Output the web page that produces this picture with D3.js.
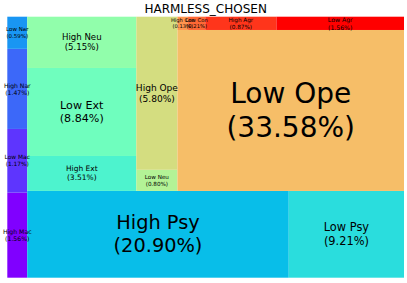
<!DOCTYPE html>
<html>
<head>
<meta charset="utf-8">
<script src="https://cdn.jsdelivr.net/npm/d3@7"></script>
<style>
  html, body { margin: 0; padding: 0; background: #ffffff; }
  svg { display: block; }
  text { font-family: "DejaVu Sans", sans-serif; fill: #000; }
</style>
</head>
<body>
<svg id="chart" width="407" height="283"></svg>
<script>
// ---- data (in layout order) ----
const categories = ["High Mac","Low Mac","High Nar","Low Nar","High Psy","Low Psy","High Ext","Low Ext","High Neu","Low Neu","High Ope","Low Ope","High Con","Low Con","High Agr","Low Agr"];
const values = [1.56, 1.17, 1.47, 0.59, 20.90, 9.21, 3.51, 8.84, 5.15, 0.80, 5.80, 33.58, 0.13, 0.21, 0.87, 1.56];
const chartTitle = "HARMLESS_CHOSEN";

// ---- squarify layout (port of python squarify) ----
function normalizeSizes(sizes, dx, dy) {
  const total = d3.sum(sizes);
  return sizes.map(s => s * dx * dy / total);
}
function layoutrow(sizes, x, y, dx, dy) {
  const width = d3.sum(sizes) / dy;
  const rects = [];
  for (const s of sizes) { rects.push({x, y, dx: width, dy: s / width}); y += s / width; }
  return rects;
}
function layoutcol(sizes, x, y, dx, dy) {
  const height = d3.sum(sizes) / dx;
  const rects = [];
  for (const s of sizes) { rects.push({x, y, dx: s / height, dy: height}); x += s / height; }
  return rects;
}
function layout(sizes, x, y, dx, dy) {
  return dx >= dy ? layoutrow(sizes, x, y, dx, dy) : layoutcol(sizes, x, y, dx, dy);
}
function leftover(sizes, x, y, dx, dy) {
  const covered = d3.sum(sizes);
  if (dx >= dy) { const w = covered / dy; return [x + w, y, dx - w, dy]; }
  const h = covered / dx; return [x, y + h, dx, dy - h];
}
function worstRatio(sizes, x, y, dx, dy) {
  return d3.max(layout(sizes, x, y, dx, dy), r => Math.max(r.dx / r.dy, r.dy / r.dx));
}
function squarify(sizes, x, y, dx, dy) {
  if (sizes.length === 0) return [];
  if (sizes.length === 1) return layout(sizes, x, y, dx, dy);
  let i = 1;
  while (i < sizes.length && worstRatio(sizes.slice(0, i), x, y, dx, dy) >= worstRatio(sizes.slice(0, i + 1), x, y, dx, dy)) i++;
  const current = sizes.slice(0, i), remaining = sizes.slice(i);
  const [lx, ly, ldx, ldy] = leftover(current, x, y, dx, dy);
  return layout(current, x, y, dx, dy).concat(squarify(remaining, lx, ly, ldx, ldy));
}

const norm = 100;
const rects = squarify(normalizeSizes(values, norm, norm), 0, 0, norm, norm);

// ---- scales ----
const svg = d3.select("#chart");
const xScale = d3.scaleLinear().domain([0, norm]).range([7.3, 404]);
const yScale = d3.scaleLinear().domain([0, norm]).range([277.7, 16.7]);

function mplRainbow(t) {
  const c = v => Math.max(0, Math.min(1, v));
  const r = c(Math.abs(2 * t - 0.5));
  const g = c(Math.sin(Math.PI * t));
  const b = c(Math.cos(Math.PI * t / 2));
  return d3.rgb(r * 255, g * 255, b * 255).formatHex();
}
const color = d3.scaleSequential(mplRainbow).domain([0, categories.length - 1]);
const fontSize = d3.scaleLinear().domain([0, d3.max(values)]).range([5.1, 28]);

const cells = rects.map((r, i) => ({
  name: categories[i], value: values[i], i,
  x0: xScale(r.x), x1: xScale(r.x + r.dx),
  y0: yScale(r.y + r.dy), y1: yScale(r.y)
}));

svg.append("g").selectAll("rect").data(cells).join("rect")
  .attr("x", d => d.x0).attr("y", d => d.y0)
  .attr("width", d => d.x1 - d.x0).attr("height", d => d.y1 - d.y0)
  .attr("fill", d => color(d.i));

const labels = svg.append("g").selectAll("text").data(cells).join("text")
  .attr("text-anchor", "middle")
  .style("font-size", d => fontSize(d.value) + "px")
  .attr("transform", d => `translate(${(d.x0 + d.x1) / 2},${(d.y0 + d.y1) / 2})`);
labels.append("tspan").attr("x", 0).attr("y", d => -0.6 * fontSize(d.value))
  .attr("dominant-baseline", "central").text(d => d.name);
labels.append("tspan").attr("x", 0).attr("y", d => 0.6 * fontSize(d.value))
  .attr("dominant-baseline", "central").text(d => `(${d.value.toFixed(2)}%)`);

svg.append("text")
  .attr("x", (xScale(0) + xScale(norm)) / 2).attr("y", 13)
  .attr("text-anchor", "middle").style("font-size", "12px")
  .text(chartTitle);
</script>
</body>
</html>
